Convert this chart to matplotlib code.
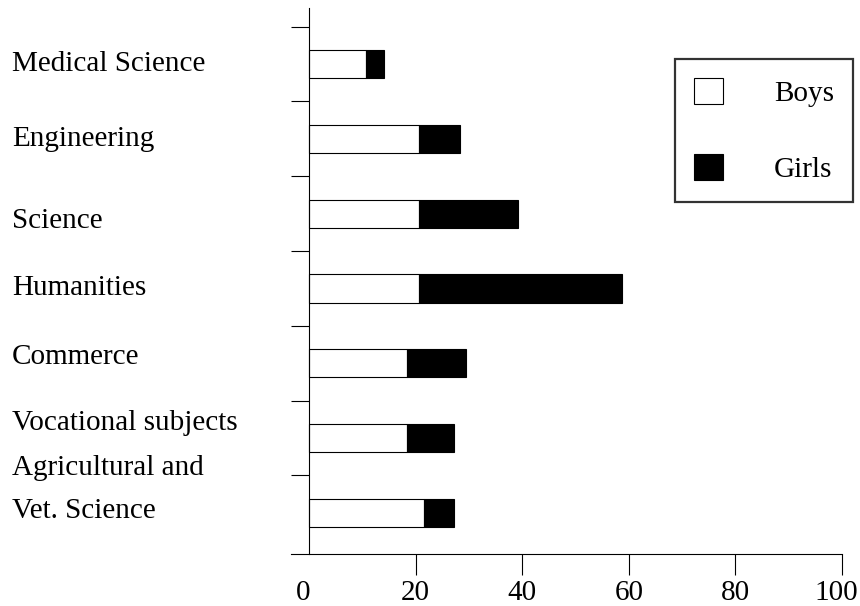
import numpy as np
import matplotlib
matplotlib.use("Agg")
import matplotlib.pyplot as plt
from matplotlib.transforms import blended_transform_factory, ScaledTranslation

plt.rcParams['font.family'] = ['Liberation Serif', 'DejaVu Serif']

# data (percent)
categories = ['Medical Science', 'Engineering', 'Science', 'Humanities',
              'Commerce', 'Vocational subjects', 'Agricultural and\nVet. Science']
boys = [10.7, 20.6, 20.6, 20.6, 18.4, 18.4, 21.6]
girls = [3.4, 7.7, 18.6, 38.1, 11.0, 8.8, 5.6]
x_ticks = [0, 20, 40, 60, 80, 100]

fs = 21

fig = plt.figure(figsize=(8.6, 6.06), dpi=100)
ax = fig.add_axes([291 / 860, 1 - 554 / 606, 551 / 860, 546 / 606])

y = np.arange(len(categories))
bar_h = 0.375
ax.barh(y, boys, height=bar_h, color='white', edgecolor='black', linewidth=0.8, label='Boys')
ax.barh(y, girls, left=boys, height=bar_h, color='black', edgecolor='black', linewidth=0.8, label='Girls')

ax.set_xlim(-3.4, 100)
ax.set_ylim(6.55, -0.75)

# spines
ax.spines['top'].set_visible(False)
ax.spines['right'].set_visible(False)
ax.spines['left'].set_position(('data', 0))
ax.spines['left'].set_linewidth(0.8)
ax.spines['bottom'].set_linewidth(0.8)

# x axis ticks (no tick mark at 0 in the original)
ax.set_xticks(x_ticks)
ax.set_xticklabels([str(t) for t in x_ticks])
ax.tick_params(axis='x', direction='out', length=15, width=0.8, labelsize=fs, pad=4)
ax.xaxis.get_major_ticks()[0].tick1line.set_visible(False)
# first and last labels sit a little left of their ticks
shift = ScaledTranslation(-6 / 100, 0, fig.dpi_scale_trans)
for lab in (ax.get_xticklabels()[0], ax.get_xticklabels()[-1]):
    lab.set_transform(lab.get_transform() + shift)

# y ticks sit between categories, no labels
ax.set_yticks(y - 0.5)
ax.set_yticklabels([])
ax.tick_params(axis='y', direction='out', length=13, width=0.8)

# category labels, left aligned at the figure edge
trans = blended_transform_factory(fig.transFigure, ax.transData)
offsets = [0, 0, 0.1, 0, -0.08, -0.2, -0.31]
for i, lab in enumerate(categories):
    ax.text(12 / 860, i + offsets[i], lab, transform=trans,
            ha='left', va='center', fontsize=fs, linespacing=1.85)

leg = ax.legend(loc='upper right', bbox_to_anchor=(853 / 860, 1 - 59 / 606),
                bbox_transform=fig.transFigure, fontsize=fs, frameon=True,
                fancybox=False, edgecolor='black', handlelength=1.0, handleheight=1.0,
                handletextpad=1.75, labelspacing=1.6, borderpad=0.65, borderaxespad=0)
leg.get_frame().set_linewidth(1.6)

fig.savefig('out.png', dpi=100)
